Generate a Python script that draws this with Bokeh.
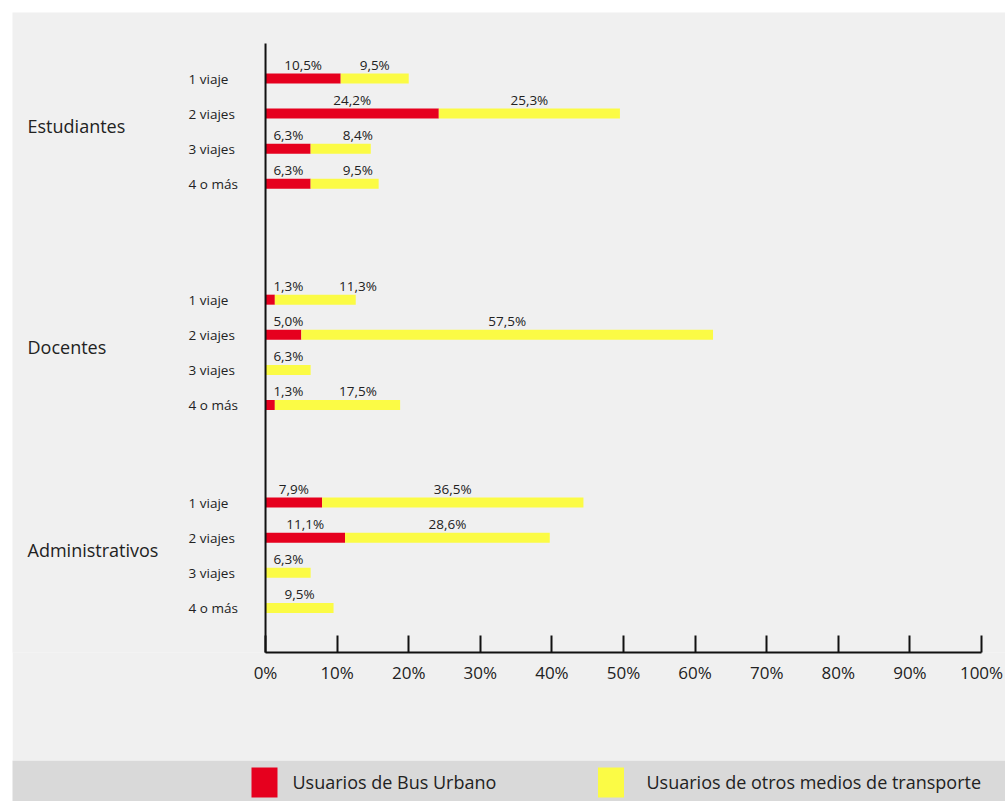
from bokeh.plotting import figure
from bokeh.models import Range1d, FixedTicker, ColumnDataSource
from bokeh.layouts import column
from bokeh.core.properties import value
from bokeh.embed import file_html
from bokeh.resources import INLINE

# ---------------- data ----------------
groups = ["Estudiantes", "Docentes", "Administrativos"]
trips = ["1 viaje", "2 viajes", "3 viajes", "4 o más"]
bus_urbano = [10.5, 24.2, 6.3, 6.3,
              1.3, 5.0, 0.0, 1.3,
              7.9, 11.1, 0.0, 0.0]
otros_medios = [9.5, 25.3, 8.4, 9.5,
                11.3, 57.5, 6.3, 17.5,
                36.5, 28.6, 6.3, 9.5]
tick_values = [0, 10, 20, 30, 40, 50, 60, 70, 80, 90, 100]
tick_labels = ["0%", "10%", "20%", "30%", "40%", "50%", "60%", "70%", "80%", "90%", "100%"]
series_names = ["Usuarios de Bus Urbano", "Usuarios de otros medios de transporte"]

# ---------------- style ----------------
RED = "#e6001e"
YELLOW = "#fbfb45"
BG = "#f0f0f0"
BAND = "#d9d9d9"
TXT = "#222222"
FONT = value("Open Sans")

W = 993
H_CHART = 748
H_LEG = 41

# row layout (category slots)
group_offsets = [0.0, 6.3, 12.08]
rows_y, rows_lbl = [], []
for g, off in enumerate(group_offsets):
    for i, t in enumerate(trips):
        rows_y.append(off + i)
        rows_lbl.append(t)

p = figure(width=W, height=H_CHART, output_backend="svg", toolbar_location=None,
           x_range=Range1d(-35.34, 103.35), y_range=Range1d(16.35, -1.88),
           y_axis_location=None, min_border_left=0, min_border_right=0,
           min_border_top=0, min_border_bottom=108)
p.background_fill_color = BG
p.border_fill_color = BG
p.outline_line_color = None
p.xgrid.visible = False
p.ygrid.visible = False

ax = p.xaxis[0]
ax.ticker = FixedTicker(ticks=tick_values)
ax.major_label_overrides = {v: l for v, l in zip(tick_values, tick_labels)}
ax.bounds = (0, 100)
ax.axis_line_width = 2
ax.axis_line_color = "#111111"
ax.major_tick_line_width = 2
ax.major_tick_line_color = "#111111"
ax.major_tick_in = 17
ax.major_tick_out = 0
ax.minor_tick_line_color = None
ax.major_label_standoff = 8
ax.major_label_text_font = "Open Sans"
ax.major_label_text_font_size = "17px"
ax.major_label_text_color = TXT

# bars
right_other = [b + o for b, o in zip(bus_urbano, otros_medios)]
src = ColumnDataSource(dict(y=rows_y, bus=bus_urbano, r2=right_other))
p.hbar(y="y", left=0, right="bus", height=0.285, source=src, fill_color=RED, line_color=None)
p.hbar(y="y", left="bus", right="r2", height=0.285, source=src, fill_color=YELLOW, line_color=None)

# vertical axis line
p.segment(x0=[0], y0=[-1.0], x1=[0], y1=[16.8], line_color="#111111", line_width=2)

# value labels
def fmt(v):
    return f"{v:.1f}".replace(".", ",") + "%"

MIN_C = 3.2
GAP = 9.7
lx, ly, lt = [], [], []
for y, b, o in zip(rows_y, bus_urbano, otros_medios):
    if b > 0:
        rx = max(b / 2, MIN_C)
        lx.append(rx); ly.append(y); lt.append(fmt(b))
        ox = max(b + o / 2, rx + GAP)
    else:
        ox = max(o / 2, MIN_C)
    lx.append(ox); ly.append(y); lt.append(fmt(o))
p.text(x=lx, y=ly, text=lt, text_font=FONT, text_font_size="13.5px", text_color=TXT,
       text_align="center", text_baseline="middle", y_offset=-14)

# row labels
p.text(x=[-10.75] * len(rows_y), y=rows_y, text=rows_lbl, text_font=FONT,
       text_font_size="13.5px", text_color=TXT, text_align="left", text_baseline="middle")

# group labels
gy = [off + 1.5 - 0.15 for off in group_offsets]
p.text(x=[-33.24] * len(groups), y=gy, text=groups, text_font=FONT,
       text_font_size="18px", text_color=TXT, text_align="left", text_baseline="middle")

# ---------------- legend band ----------------
leg = figure(width=W, height=H_LEG, output_backend="svg", toolbar_location=None,
             x_range=Range1d(0, W), y_range=Range1d(0, H_LEG),
             x_axis_location=None, y_axis_location=None,
             min_border=0)
leg.background_fill_color = BAND
leg.border_fill_color = BAND
leg.outline_line_color = None
leg.xgrid.visible = False
leg.ygrid.visible = False
sw_x = [252, 598.5]
tx_x = [280, 634]
leg.rect(x=sw_x, y=[19] * 2, width=26, height=30, fill_color=[RED, YELLOW], line_color=None)
leg.text(x=tx_x, y=[20] * 2, text=series_names, text_font=FONT, text_font_size="18px",
         text_color=TXT, text_align="left", text_baseline="middle")

layout = column(p, leg, spacing=0)
layout.margin = (12, 0, 0, 12)

open("out.html", "w").write(file_html(layout, INLINE))
